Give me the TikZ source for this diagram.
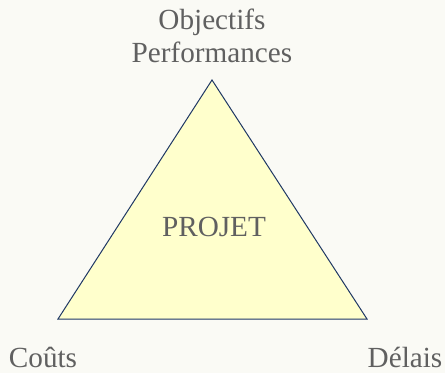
\documentclass[tikz,border=0pt]{standalone}
\usepackage{fontspec}
\setmainfont{Liberation Serif}
\usetikzlibrary{positioning}
\definecolor{fond}{HTML}{FAFAF5}
\definecolor{jaune}{HTML}{FFFFCC}
\definecolor{bord}{HTML}{1F3864}
\definecolor{texte}{HTML}{606060}
\tikzset{
  label/.style={anchor=base, inner sep=0pt, text=texte, font=\fontsize{29.2}{33}\selectfont},
  cote/.style={draw=bord, line width=1pt, fill=jaune, line join=miter}
}
\begin{document}
\begin{tikzpicture}[x=1pt,y=1pt]
        \fill[fond] (0,0) rectangle (445,373);
        \useasboundingbox (0,0) rectangle (445,373);
        \coordinate (sommet) at (212,293);
        \coordinate (gauche) at (58,54);
        \coordinate (droite) at (367,54);
        \draw[cote] (sommet) -- (gauche) -- (droite) -- cycle;
        \node[label] (projet) at (214,137) {PROJET};
        \node[label] (obj) at (212,343) {Objectifs};
        \node[label] (perf) at (212,310) {Performances};
        \node[label] (couts) at (43,6) {Coûts};
        \node[label] (delais) at (405,6) {Délais};
      \end{tikzpicture}
\end{document}
